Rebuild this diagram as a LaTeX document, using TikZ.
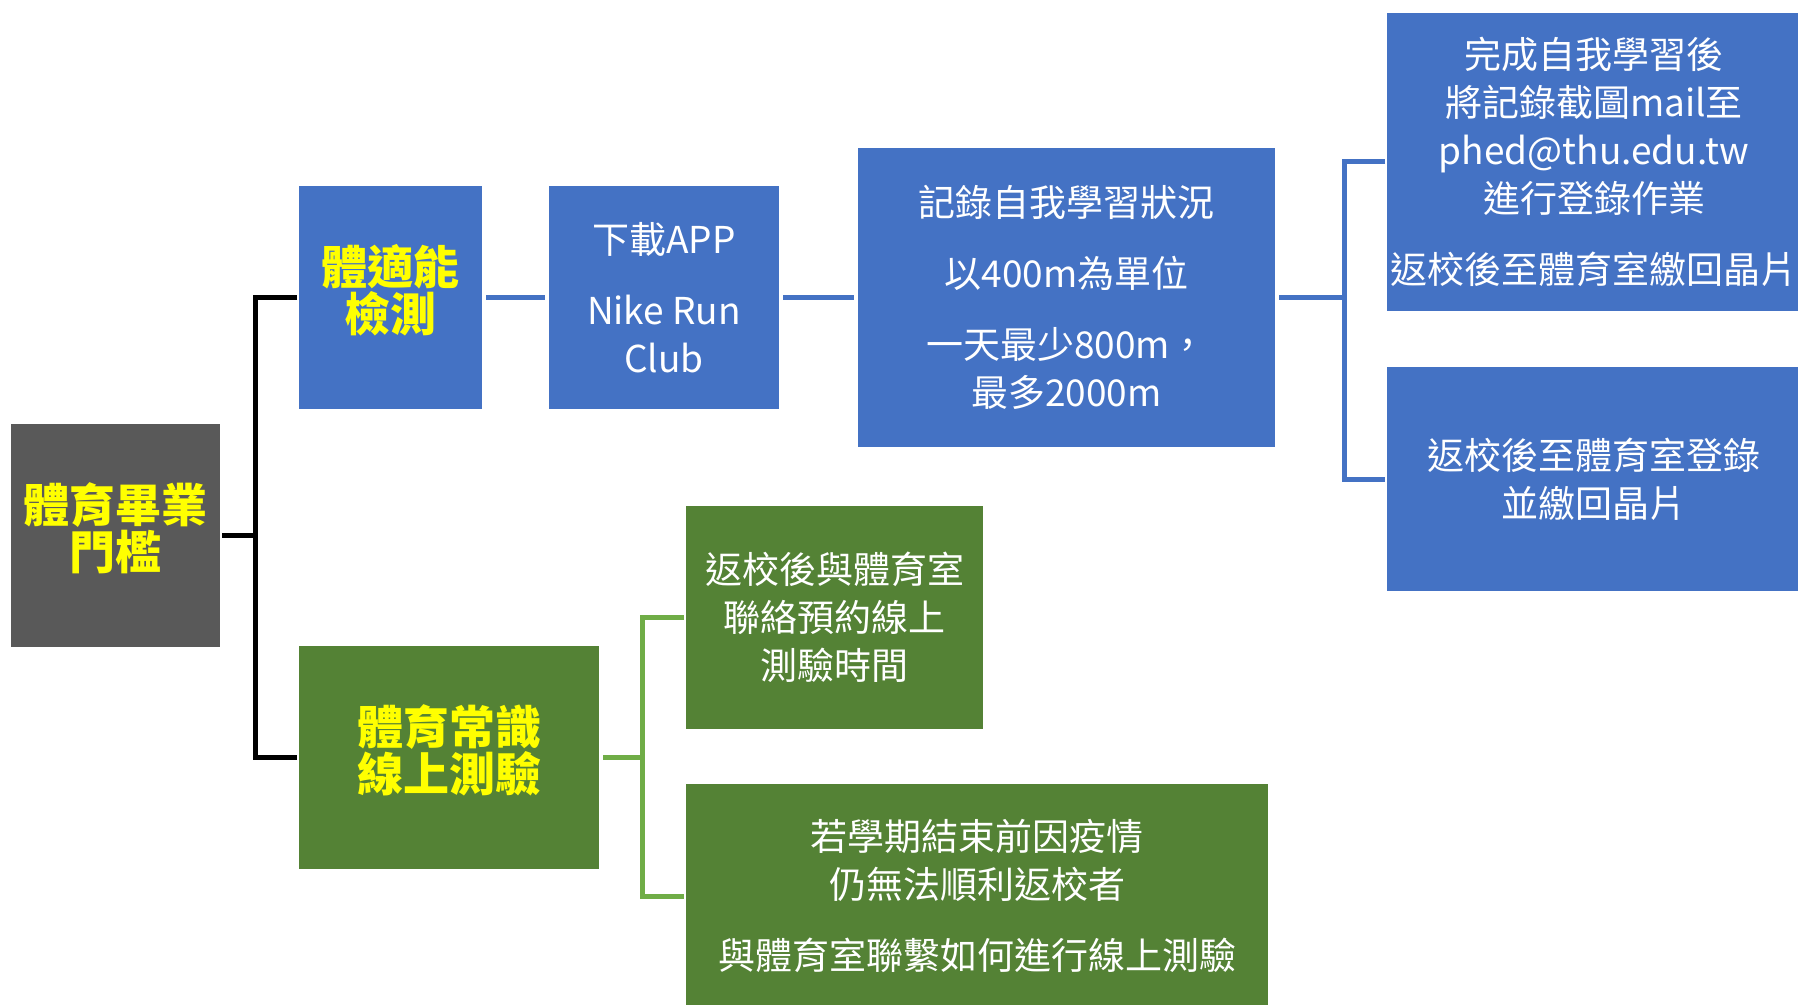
\documentclass[tikz,border=0pt]{standalone}
\usepackage{fontspec}
\setmainfont{Noto Sans CJK TC}
\definecolor{boxblue}{HTML}{4472C4}
\definecolor{boxgreen}{HTML}{548235}
\definecolor{linegreen}{HTML}{70AD47}
\definecolor{boxgray}{HTML}{595959}
\definecolor{titleyellow}{HTML}{FFFF00}
\begin{document}
\begin{tikzpicture}[x=0.5pt,y=-0.5pt,
  box/.style={inner sep=0pt, outer sep=0pt, align=center, text=white,
    font=\fontsize{18.5pt}{24pt}\selectfont},
  bluebox/.style={box, fill=boxblue},
  greenbox/.style={box, fill=boxgreen},
  graybox/.style={box, fill=boxgray},
  titletext/.style={inner sep=0pt, align=center, yshift=3.5pt, text=titleyellow, font=\fontsize{23pt}{23.5pt}\selectfont\bfseries},
  blackline/.style={draw=black, line width=2.5pt},
  blueline/.style={draw=boxblue, line width=2.5pt},
  greenline/.style={draw=linegreen, line width=2.5pt}]
\useasboundingbox (0,0) rectangle (1798,1005);
\fill[white] (0,0) rectangle (1798,1005);

\node[graybox, minimum width=104.5pt, minimum height=111.5pt,
  label={[titletext]center:{體育畢業\\門檻}}] (root) at (115.5,535.5) {};
\node[bluebox, minimum width=91.5pt, minimum height=111.5pt,
  label={[titletext]center:{體適能\\檢測}}] (tiji) at (390.5,297.5) {};
\node[bluebox, minimum width=115pt, minimum height=111.5pt] (app) at (664,297.5) {下載APP\\[11.5pt]Nike Run\\Club};
\node[bluebox, minimum width=208.5pt, minimum height=149.5pt] (rec) at (1066.5,297.5) {記錄自我學習狀況\\[11.5pt]以400m為單位\\[11.5pt]一天最少800m，\\最多2000m};
\node[bluebox, minimum width=207pt, minimum height=149pt] (r1) at (1594,162) {完成自我學習後\\將記錄截圖mail至\\phed@thu.edu.tw\\進行登錄作業\\[11.5pt]返校後至體育室繳回晶片};
\node[bluebox, minimum width=207pt, minimum height=112pt] (r2) at (1594,479) {返校後至體育室登錄\\並繳回晶片};
\node[greenbox, minimum width=150pt, minimum height=111.5pt,
  label={[titletext]center:{體育常識\\線上測驗}}] (chang) at (449,757.5) {};
\node[greenbox, minimum width=148.5pt, minimum height=111.5pt] (g1) at (834.5,617.5) {返校後與體育室\\聯絡預約線上\\測驗時間};
\node[greenbox, minimum width=291pt, minimum height=112pt] (g2) at (977,896) {若學期結束前因疫情\\仍無法順利返校者\\[11.5pt]與體育室聯繫如何進行線上測驗};

\coordinate (bj) at (255,535.5);
\coordinate (bb) at (1344,297.5);
\coordinate (gj) at (642,757.5);

\draw[blackline] ([xshift=1pt]root.east) -- (bj);
\draw[blackline] ([xshift=-1pt]tiji.west) -| (bj) |- ([xshift=-1pt]chang.west);

\draw[blueline] ([xshift=2pt]tiji.east) -- ([xshift=-2pt]app.west);
\draw[blueline] ([xshift=2pt]app.east) -- ([xshift=-2pt]rec.west);
\draw[blueline] ([xshift=2pt]rec.east) -- (bb);
\draw[blueline] ([xshift=-1pt]r1.west) -| (bb) |- ([xshift=-1pt]r2.west);

\draw[greenline] ([xshift=2pt]chang.east) -- (gj);
\draw[greenline] ([xshift=-1pt]g1.west) -| (gj) |- ([xshift=-1pt]g2.west);
\end{tikzpicture}
\end{document}
